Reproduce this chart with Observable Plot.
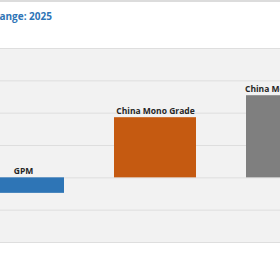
<!DOCTYPE html>
<html>
<head>
<meta charset="utf-8">
<script src="https://cdn.jsdelivr.net/npm/d3@7"></script>
<script src="https://cdn.jsdelivr.net/npm/@observablehq/plot@0.6"></script>
<style>
  html, body { margin: 0; padding: 0; background: #ffffff; width: 280px; height: 280px; overflow: hidden; position: relative; }
  #topline { position: absolute; left: 0; top: 0; width: 280px; height: 2px; background: #dcdcdc; }
  #title { position: absolute; top: 9px; left: -348px; width: 400px; text-align: right; white-space: nowrap;
           font-family: "Open Sans", sans-serif; font-weight: 700; font-size: 10px; color: #2e75b6; }
  #chart { position: absolute; left: -43px; top: 0; width: 396px; height: 280px; }
  #chart svg { max-width: none !important; display: block; }
</style>
</head>
<body>
<div id="topline"></div>
<div id="title">Year-to-Date Price Change: 2025</div>
<div id="chart"></div>
<script>
const categories = ["GPM", "China Mono Grade", "China Mono Powder"];
const values = [-2.4, 9.3, 12.7];
const colors = ["#2e75b6", "#c55a11", "#7f7f7f"];
const gridTicks = [-10, -5, 0, 5, 10, 15, 20];

const data = categories.map((c, i) => ({ category: c, value: values[i], color: colors[i] }));

const chart = Plot.plot({
  width: 396,
  height: 280,
  marginLeft: 0,
  marginRight: 0,
  marginTop: 48,
  marginBottom: 38,
  style: { background: "transparent", fontFamily: "'Open Sans', sans-serif", maxWidth: "none" },
  x: { domain: categories, paddingInner: 0.38, paddingOuter: 0.19, axis: null },
  y: { domain: [-10, 20], axis: null },
  marks: [
    Plot.frame({ fill: "#f2f2f2", stroke: null }),
    Plot.gridY(gridTicks, { stroke: "#dedede", strokeOpacity: 1, strokeWidth: 1 }),
    Plot.barY(data, { x: "category", y: "value", fill: "color" }),
    Plot.text(data, {
      x: "category",
      y: d => Math.max(d.value, 0),
      text: "category",
      lineAnchor: "bottom",
      dy: -4,
      fill: "#262626",
      fontWeight: "bold",
      fontSize: 8.5
    })
  ]
});
document.getElementById("chart").appendChild(chart);
</script>
</body>
</html>
